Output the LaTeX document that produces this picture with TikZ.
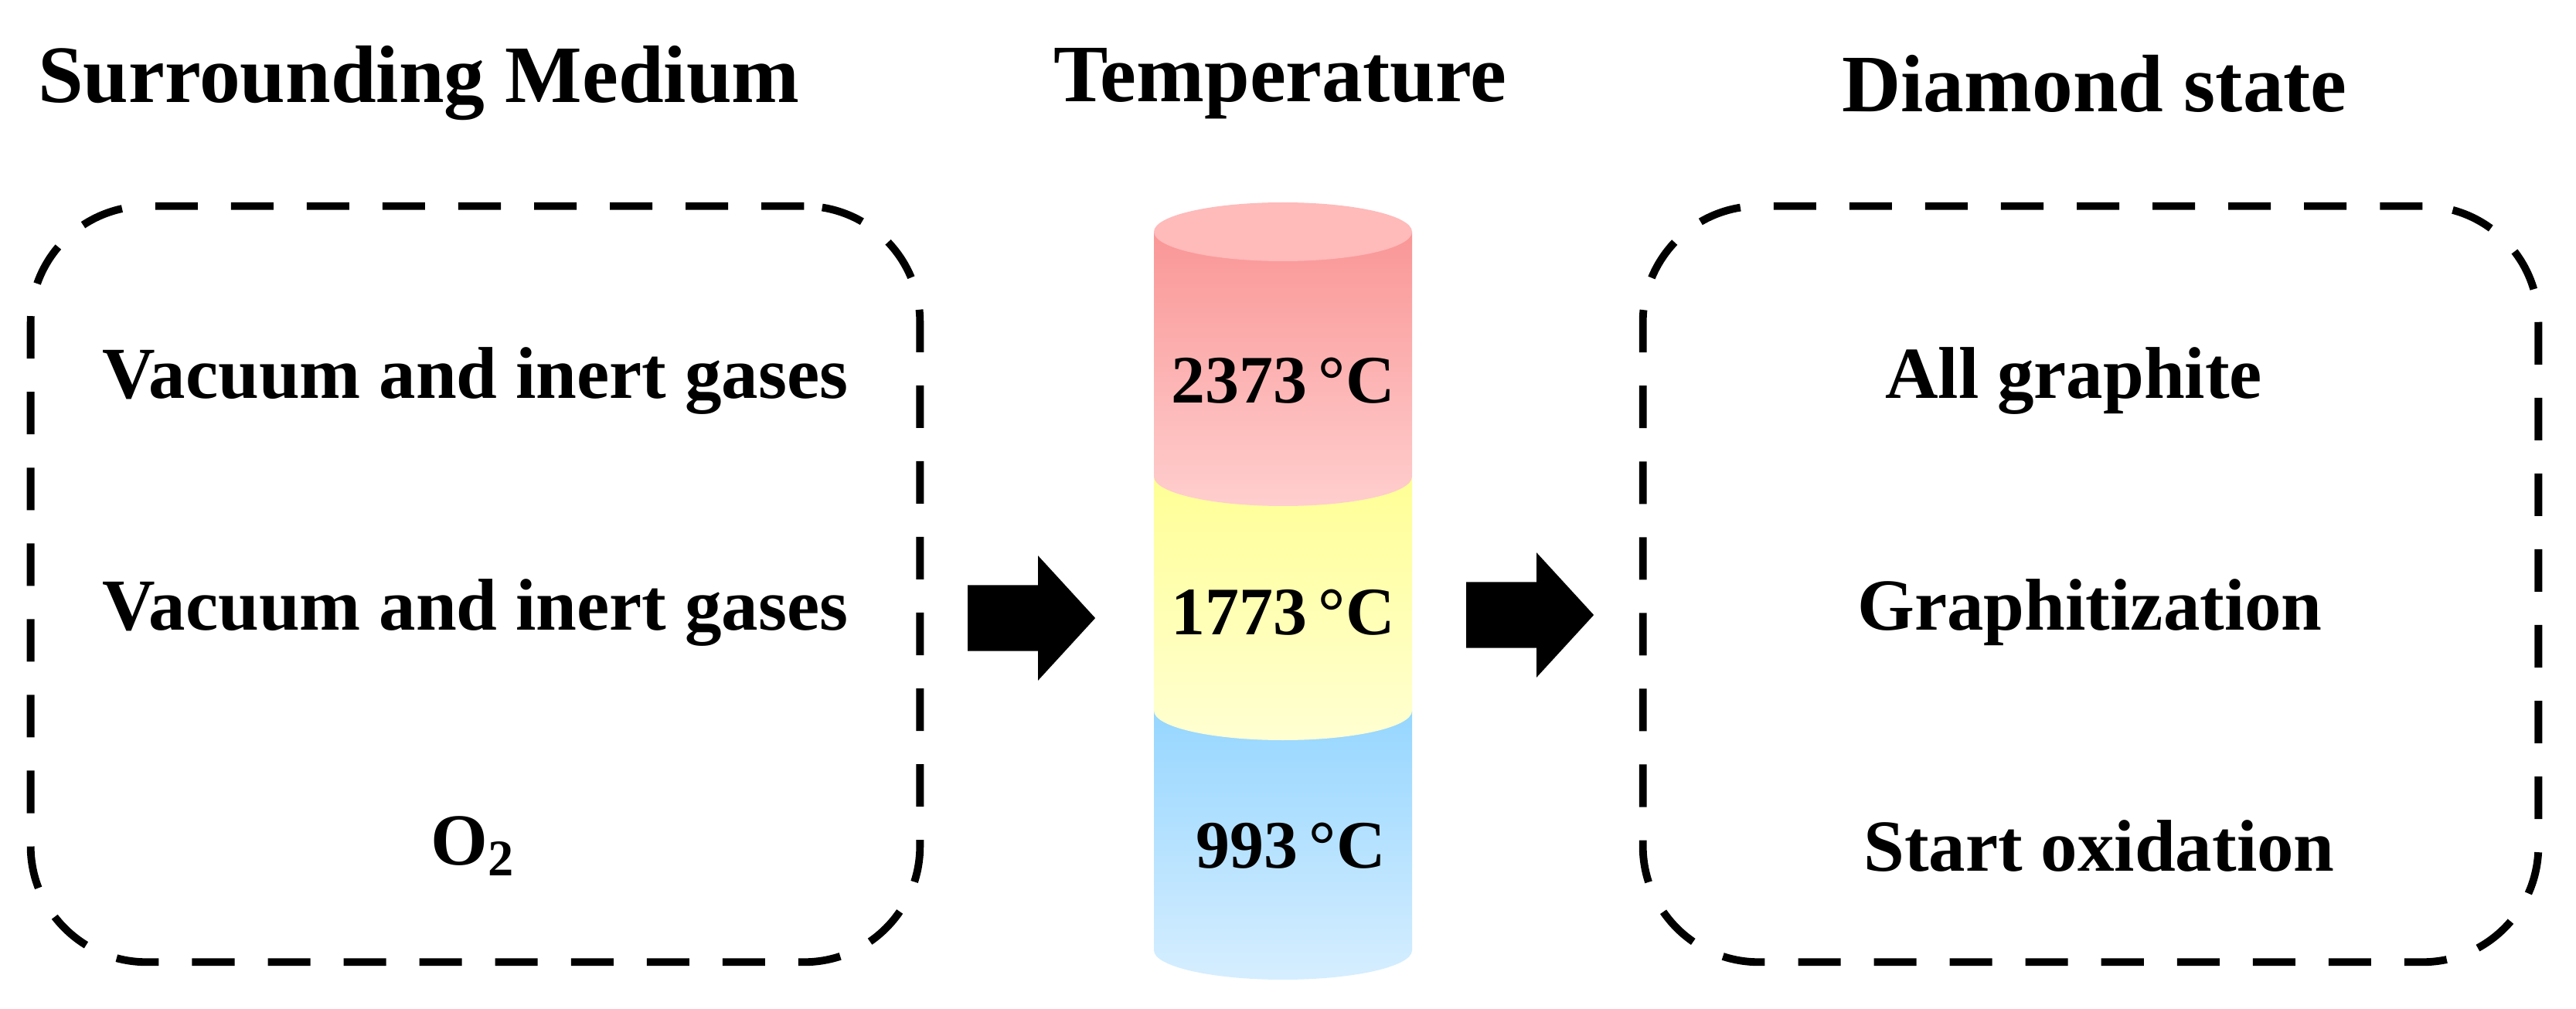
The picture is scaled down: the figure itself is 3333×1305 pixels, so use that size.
\documentclass[tikz,border=0pt]{standalone}
\usepackage{fontspec}
\setmainfont{Liberation Serif}
\usetikzlibrary{shapes.arrows}
\definecolor{capred}{RGB}{255,186,186}
\definecolor{redtop}{RGB}{250,150,150}
\definecolor{redbot}{RGB}{255,206,206}
\definecolor{yeltop}{RGB}{255,255,150}
\definecolor{yelbot}{RGB}{255,255,210}
\definecolor{blutop}{RGB}{150,214,255}
\definecolor{blubot}{RGB}{214,238,255}
\begin{document}
\begin{tikzpicture}[x=0.01cm,y=0.01cm,
  ttl/.style={font=\fontsize{30}{36}\selectfont\bfseries, inner sep=0},
  lbl/.style={font=\fontsize{27}{32}\selectfont\bfseries, inner sep=0},
  dbox/.style={draw, line width=2.8pt, dash pattern=on 0.55cm off 0.43cm, rounded corners=1.5cm, minimum width=11.5cm, minimum height=9.78cm},
  barrow/.style={single arrow, fill=black, inner xsep=0, inner ysep=0.42cm, minimum height=1.65cm, single arrow head extend=0.38cm, single arrow tip angle=95}]
\useasboundingbox (0,0) rectangle (3333,1305);
\node[ttl] (ttlmed) at (542,1197){Surrounding Medium};
\node[ttl] (ttltmp) at (1656,1197){Temperature};
\node[ttl] (ttlst) at (2710,1197){Diamond state};
\node[dbox] (boxmed) at (615,549){};
\node[dbox, minimum width=11.58cm] (boxst) at (2705,549){};
% cylinder
\shade[top color=blutop, bottom color=blubot] (1493,385) -- (1493,75) arc[start angle=180, end angle=360, x radius=167, y radius=38] -- (1827,385) -- cycle;
\shade[top color=yeltop, bottom color=yelbot] (1493,688) -- (1493,385) arc[start angle=180, end angle=360, x radius=167, y radius=38] -- (1827,688) -- cycle;
\shade[top color=redtop, bottom color=redbot] (1493,1005) -- (1493,688) arc[start angle=180, end angle=360, x radius=167, y radius=38] -- (1827,1005) -- cycle;
\fill[capred] (1660,1005) ellipse[x radius=167, y radius=38];
\node[lbl] (med1) at (615,812){Vacuum and inert gases};
\node[lbl] (med2) at (615,512){Vacuum and inert gases};
\node[lbl] (med3) at (612,210){O\textsubscript{2}};
\node[lbl, font=\fontsize{25}{30}\selectfont\bfseries] (tmp1) at (1660,812){2373\,°C};
\node[lbl, font=\fontsize{25}{30}\selectfont\bfseries] (tmp2) at (1660,512){1773\,°C};
\node[lbl, font=\fontsize{25}{30}\selectfont\bfseries] (tmp3) at (1670,210){993\,°C};
\node[lbl] (st1) at (2683,812){All graphite};
\node[lbl] (st2) at (2704,512){Graphitization};
\node[lbl] (st3) at (2716,210){Start oxidation};
\node[barrow] (arr1) at (1315,505){};
\node[barrow] (arr2) at (1960,509){};
\end{tikzpicture}
\end{document}
